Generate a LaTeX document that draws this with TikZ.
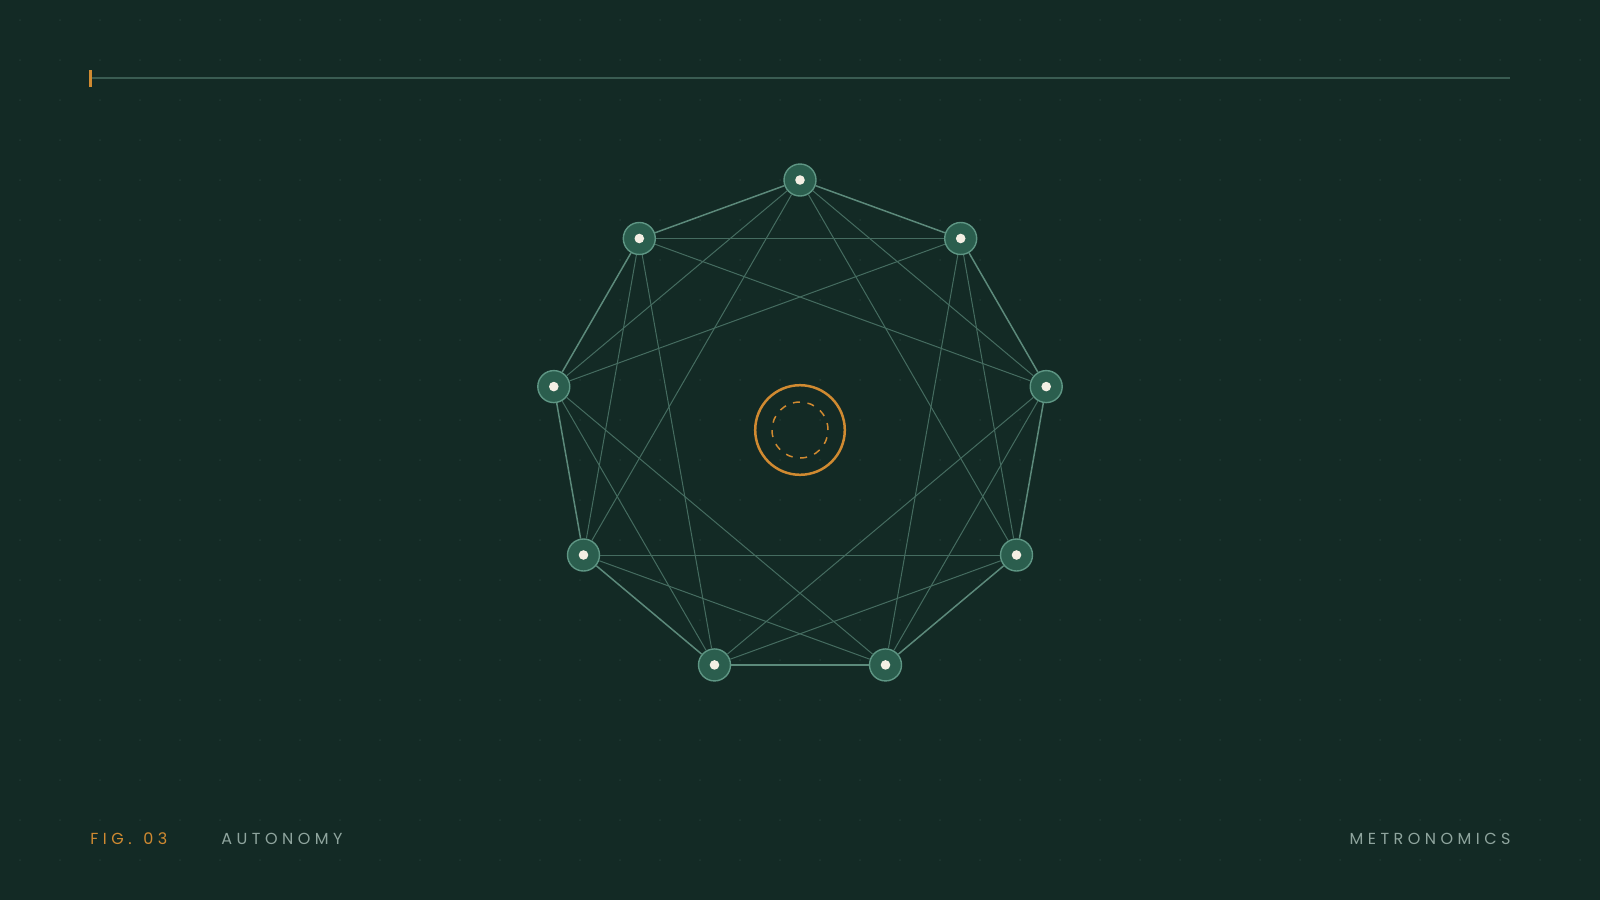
\documentclass[tikz,border=0pt]{standalone}
\usepackage{fontspec}
\newfontfamily\labelfont[LetterSpace=28]{Poppins}
\definecolor{bgc}{HTML}{132A25}
\definecolor{dotc}{HTML}{1F3832}
\definecolor{rulec}{HTML}{3A5C52}
\definecolor{accent}{HTML}{D08A31}
\definecolor{nodefill}{HTML}{2B5E4E}
\definecolor{nodestroke}{HTML}{5E9684}
\definecolor{outeredge}{HTML}{5C8A7B}
\definecolor{inneredge}{HTML}{456C60}
\definecolor{cream}{HTML}{F4EFE4}
\definecolor{greytext}{HTML}{8FA59E}
\tikzset{
  netnode/.style={circle, minimum size=16pt, inner sep=0pt, fill=nodefill, draw=nodestroke, line width=0.7pt,
    path picture={\fill[cream] (path picture bounding box.center) circle (2.4pt);}},
  ringedge/.style={draw=outeredge, line width=0.75pt},
  chordedge/.style={draw=inneredge, line width=0.5pt},
  hubouter/.style={circle, minimum size=44.8pt, inner sep=0pt, draw=accent, line width=1.25pt},
  hubinner/.style={circle, minimum size=28pt, inner sep=0pt, draw=accent, line width=0.75pt, dash pattern=on 3.5pt off 3.83pt},
  captext/.style={inner sep=0pt, font=\labelfont\fontsize{8pt}{10pt}\selectfont}
}
\begin{document}
\begin{tikzpicture}[x=0.5pt,y=-0.5pt]
\fill[bgc] (0,0) rectangle (1600,900);
\useasboundingbox (0,0) rectangle (1600,900);
% dot grid
\foreach \i in {0,...,39} {
  \foreach \j in {0,...,21} {
    \fill[dotc] ({20+40*\i},{20+40*\j}) circle (1);
  }
}
% top rule
\coordinate (ruleL) at (92,78);
\coordinate (ruleR) at (1510,78);
\draw[rulec, line width=0.6pt] (ruleL) -- (ruleR);
\fill[accent] (88.5,70) rectangle (91.5,87);
% nodes
\foreach \k in {0,...,8} {
  \node[netnode] (n\k) at ({800+250*sin(40*\k)},{430-250*cos(40*\k)}) {};
}
% chords (steps 2 and 3)
\foreach \i in {0,...,8} {
  \pgfmathtruncatemacro\b{mod(\i+2,9)}
  \pgfmathtruncatemacro\c{mod(\i+3,9)}
  \draw[chordedge] (n\i) -- (n\b);
  \draw[chordedge] (n\i) -- (n\c);
}
% ring
\foreach \i in {0,...,8} {
  \pgfmathtruncatemacro\a{mod(\i+1,9)}
  \draw[ringedge] (n\i) -- (n\a);
}
% hub
\node[hubouter] (hub) at (800,430) {};
\node[hubinner] (hubin) at (800,430) {};
% captions
\node[captext, anchor=west, text=accent] (fig) at (90,839) {FIG. \hspace{1.5pt}03};
\node[captext, anchor=west, text=greytext] (title) at (221,839) {AUTONOMY};
\node[captext, anchor=east, text=greytext] (brand) at (1511,839) {METRONOMICS};
\end{tikzpicture}
\end{document}
